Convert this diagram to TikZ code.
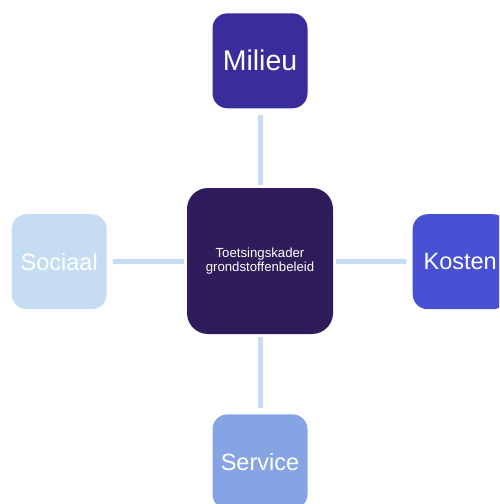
\documentclass[tikz,border=0pt]{standalone}
\usepackage{fontspec}
\setmainfont{Liberation Sans}
\definecolor{cmid}{HTML}{2F1C5A}
\definecolor{cmil}{HTML}{392D9B}
\definecolor{ckos}{HTML}{4850D3}
\definecolor{cser}{HTML}{86A4E4}
\definecolor{csoc}{HTML}{C6DCF3}
\definecolor{cline}{HTML}{C6DCF3}
\tikzset{
  outer/.style={rounded corners=15pt, minimum width=95pt, minimum height=95pt, inner sep=0pt, text=white, font=\fontsize{23.5}{26}\selectfont},
  center/.style={rounded corners=21pt, minimum width=146pt, minimum height=146pt, inner sep=0pt, text=white, align=center, font=\fontsize{13.2}{13.4}\selectfont},
  conn/.style={draw=cline, line width=5pt, shorten <=3pt, shorten >=6pt}
}
\begin{document}
\begin{tikzpicture}[x=1pt,y=-1pt]
\useasboundingbox (0,0) rectangle (499,504);
\clip (0,0) rectangle (499,504);
\node[center, fill=cmid] (mid) at (260,261) {Toetsingskader\\grondstoffenbeleid};
\node[outer, fill=cmil, font=\fontsize{28.5}{30}\selectfont] (mil) at (260,60.8) {Milieu};
\node[outer, fill=ckos] (kos) at (460.2,261.7) {Kosten};
\node[outer, fill=cser] (ser) at (260,461.8) {Service};
\node[outer, fill=csoc] (soc) at (59.2,261.7) {Sociaal};
\draw[conn] (mid) -- (mil);
\draw[conn] (mid) -- (kos);
\draw[conn] (mid) -- (ser);
\draw[conn] (mid) -- (soc);
\end{tikzpicture}
\end{document}
